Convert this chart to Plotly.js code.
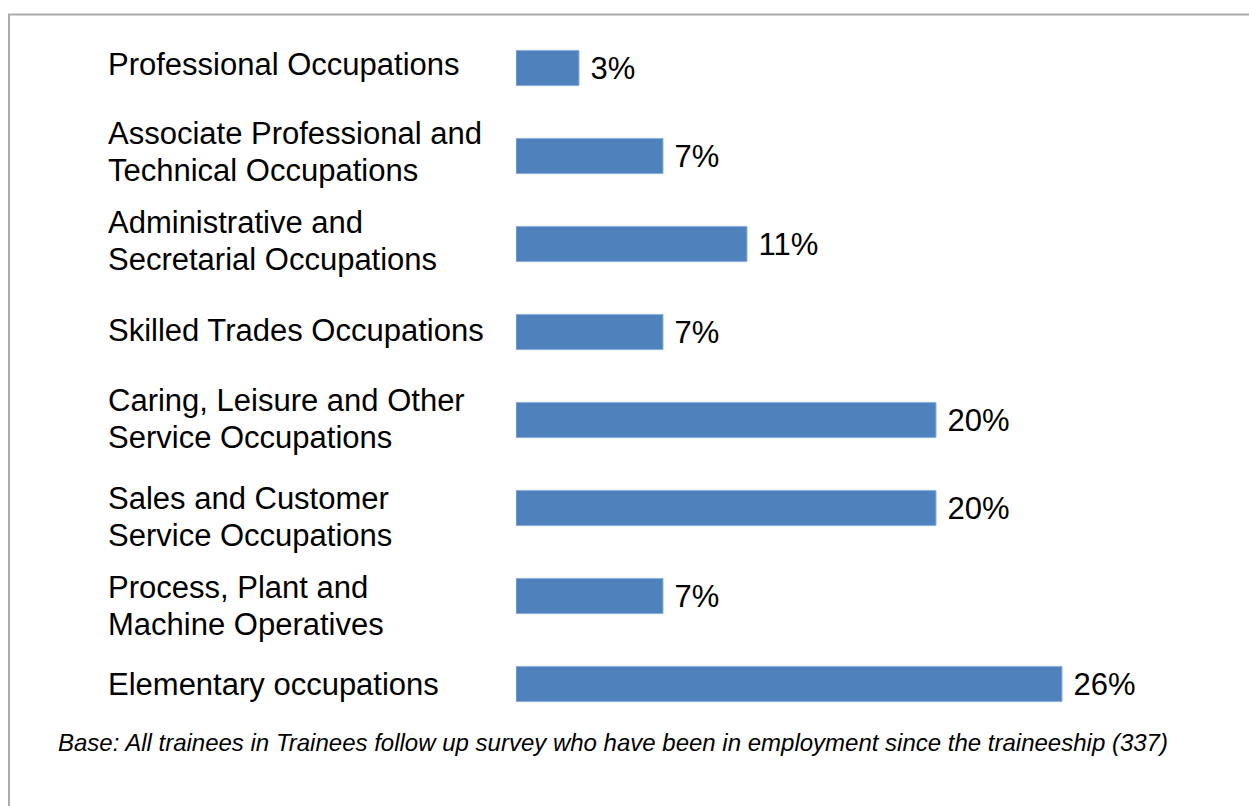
<!DOCTYPE html>
<html>
<head>
<meta charset="utf-8">
<script src="https://cdn.plot.ly/plotly-3.0.1.min.js"></script>
<style>
html,body{margin:0;padding:0;background:#fff;}
#chart{width:1249px;height:806px;}
</style>
</head>
<body>
<div id="chart"></div>
<script>
var categories = [
  "Professional Occupations",
  "Associate Professional and<br>Technical Occupations",
  "Administrative and<br>Secretarial Occupations",
  "Skilled Trades Occupations",
  "Caring, Leisure and Other<br>Service Occupations",
  "Sales and Customer<br>Service Occupations",
  "Process, Plant and<br>Machine Operatives",
  "Elementary occupations"
];
var values = [3, 7, 11, 7, 20, 20, 7, 26];
var footnote = "Base: All trainees in Trainees follow up survey who have been in employment since the traineeship (337)";

// per-label vertical nudges (px) so the text boxes sit where they do in the original
var labelNudge = [0, 0, -1, -2, -3, -13, -14, -4];

var fontFam = "Liberation Sans, Arial, sans-serif";

var trace = {
  type: "bar",
  orientation: "h",
  y: categories,
  x: values,
  width: 0.4,
  marker: {color: "#4F81BD", line: {color: "#8EB0DC", width: 1}},
  texttemplate: "\u00a0%{x}%",
  textposition: "outside",
  constraintext: "none",
  cliponaxis: false,
  textfont: {family: fontFam, size: 31, color: "#000"},
  hoverinfo: "skip"
};

var annotations = [];
var lineGap = 37;
categories.forEach(function(c, k){
  var lines = c.split("<br>");
  var n = lines.length;
  lines.forEach(function(t, i){
    annotations.push({
      xref: "paper", yref: "y", x: 0, y: c,
      xanchor: "left", yanchor: "middle", align: "left",
      xshift: -410, yshift: 4 + labelNudge[k] + ((n - 1) / 2 - i) * lineGap,
      text: t, showarrow: false,
      font: {family: fontFam, size: 31, color: "#000"}
    });
  });
});
annotations.push({
  xref: "paper", yref: "paper", x: 0, y: 0,
  xanchor: "left", yanchor: "middle", align: "left",
  xshift: -460, yshift: -14,
  text: "<i>" + footnote + "</i>", showarrow: false,
  font: {family: fontFam, size: 24, color: "#000"}
});

var layout = {
  width: 1249, height: 806,
  margin: {l: 516, r: 103, t: 23.5, b: 77.5, pad: 0},
  paper_bgcolor: "#fff", plot_bgcolor: "#fff",
  showlegend: false,
  bargap: 0.6,
  xaxis: {range: [0, 30], visible: false, fixedrange: true},
  yaxis: {type: "category", range: [7.5, -0.5], showticklabels: false,
          showgrid: false, zeroline: false, showline: false, ticks: "", fixedrange: true},
  annotations: annotations,
  shapes: [{
    type: "rect", xref: "paper", yref: "paper",
    x0: (9 - 516) / 630, x1: 2, y0: -1, y1: (728.5 - 14) / 705,
    line: {color: "#ABABAB", width: 2}, fillcolor: "rgba(0,0,0,0)", layer: "below"
  }]
};

Plotly.newPlot("chart", [trace], layout, {displayModeBar: false, staticPlot: true});
</script>
</body>
</html>
